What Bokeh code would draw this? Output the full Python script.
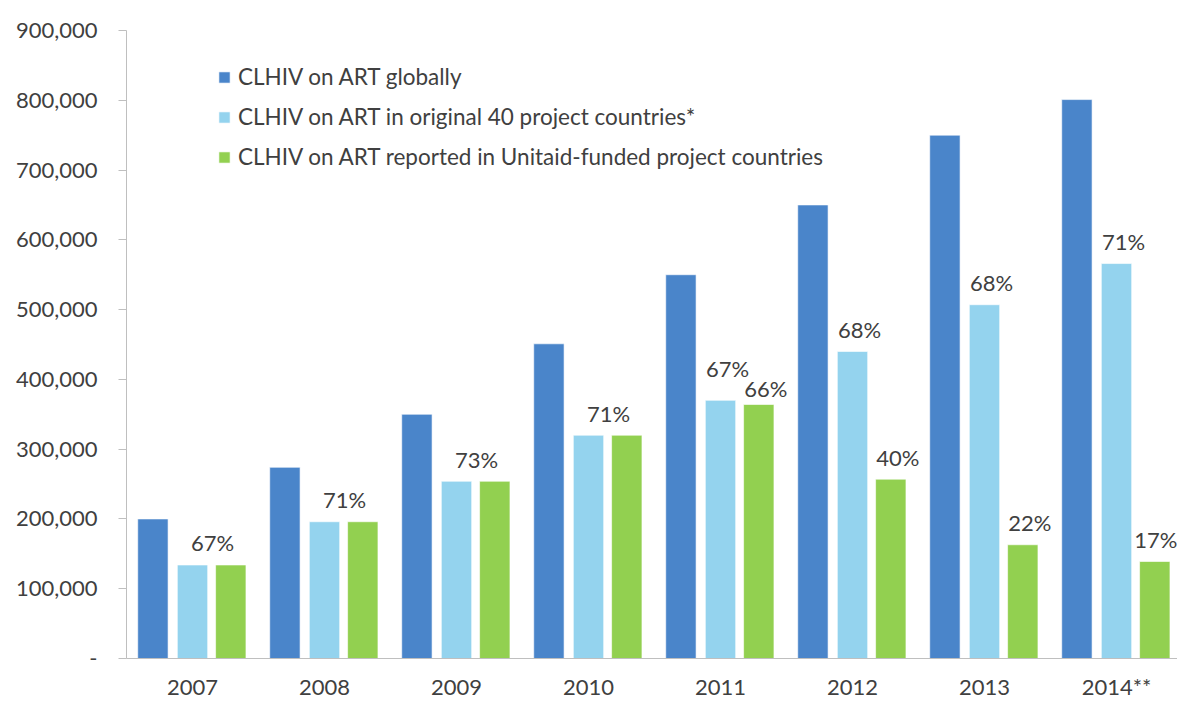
from bokeh.plotting import figure
from bokeh.models import (ColumnDataSource, Range1d, FixedTicker, NumeralTickFormatter,
                          Legend, LegendItem)
from bokeh.core.properties import value
from bokeh.embed import file_html
from bokeh.resources import INLINE

# ---------------- data ----------------
years = ["2007", "2008", "2009", "2010", "2011", "2012", "2013", "2014**"]
global_art = [200000, 274000, 350000, 451000, 550000, 650000, 750000, 801000]
orig40_art = [134000, 196000, 254000, 320000, 370000, 440000, 507000, 566000]
unitaid_art = [134000, 196000, 254000, 320000, 364000, 257000, 163000, 139000]
orig40_pct = ["67%", "71%", "73%", "71%", "67%", "68%", "68%", "71%"]
unitaid_pct = ["", "", "", "", "66%", "40%", "22%", "17%"]
series_names = ["CLHIV on ART globally",
                "CLHIV on ART in original 40 project countries*",
                "CLHIV on ART reported in Unitaid-funded project countries"]
y_ticks = [0, 100000, 200000, 300000, 400000, 500000, 600000, 700000, 800000, 900000]

# ---------------- style ----------------
FONT = "Lato"
TXT = "#404040"
AXC = "#BFBFBF"
FS = "22px"
colors = ["#4A85CA", "#94D3EE", "#92D050"]
offsets = [-0.30, 0.0, 0.29]
bar_w = 0.23

n = len(years)
centers = [i + 0.5 for i in range(n)]

p = figure(width=1177, height=702, output_backend="svg", toolbar_location=None,
           x_range=Range1d(0, 1051 / 132), y_range=Range1d(0, 900000),
           min_border_left=126, min_border_right=0, min_border_top=30, min_border_bottom=42)
p.outline_line_color = None
p.xgrid.visible = False
p.ygrid.visible = False
p.background_fill_color = "white"

renderers = []
for vals, col, off in zip([global_art, orig40_art, unitaid_art], colors, offsets):
    src = ColumnDataSource(dict(x=[c + off for c in centers], top=vals))
    r = p.vbar(x="x", top="top", width=bar_w, bottom=0, source=src,
               fill_color=col, line_color="white", line_width=1, line_alpha=0.6)
    renderers.append(r)

# percentage labels
lx, ly, lt, lxo, lyo = [], [], [], [], []
BASE = -22
nudge_y = {(4, 0): -10, (4, 1): 6}
nudge_x = {(7, 1): -6}
for i in range(n):
    if unitaid_pct[i] == "":
        lx.append(centers[i] + (offsets[1] + offsets[2]) / 2)
        ly.append(max(orig40_art[i], unitaid_art[i]))
        lt.append(orig40_pct[i])
        lxo.append(1)
        lyo.append(BASE)
    else:
        lx.append(centers[i] + offsets[1]); ly.append(orig40_art[i]); lt.append(orig40_pct[i])
        lxo.append(7 + nudge_x.get((i, 0), 0)); lyo.append(BASE + nudge_y.get((i, 0), 0))
        lx.append(centers[i] + offsets[2]); ly.append(unitaid_art[i]); lt.append(unitaid_pct[i])
        lxo.append(7 + nudge_x.get((i, 1), 0)); lyo.append(BASE + nudge_y.get((i, 1), 0))
lsrc = ColumnDataSource(dict(x=lx, y=ly, t=lt, xo=lxo, yo=lyo))
p.text(x="x", y="y", text="t", x_offset="xo", y_offset="yo", source=lsrc,
       text_font=value(FONT), text_font_size=FS, text_color=TXT,
       text_align="center", text_baseline="alphabetic")

# axes
p.xaxis.ticker = FixedTicker(ticks=centers)
p.xaxis.major_label_overrides = {c: y for c, y in zip(centers, years)}
p.xaxis.axis_line_color = AXC
p.xaxis.major_tick_line_color = None
p.xaxis.minor_tick_line_color = None
p.xaxis.major_tick_out = 0
p.xaxis.major_label_standoff = 14
p.xaxis.major_label_text_font = FONT
p.xaxis.major_label_text_font_size = FS
p.xaxis.major_label_text_color = TXT

p.yaxis.ticker = FixedTicker(ticks=y_ticks)
p.yaxis.formatter = NumeralTickFormatter(format="0,0")
p.yaxis.major_label_overrides = {0: "-"}
p.yaxis.axis_line_color = AXC
p.yaxis.major_tick_line_color = AXC
p.yaxis.minor_tick_line_color = None
p.yaxis.major_tick_out = 8
p.yaxis.major_tick_in = 0
p.yaxis.major_label_standoff = 21
p.yaxis.major_label_text_font = FONT
p.yaxis.major_label_text_font_size = FS
p.yaxis.major_label_text_color = TXT

legend = Legend(items=[LegendItem(label=nm, renderers=[r]) for nm, r in zip(series_names, renderers)],
                location=(91, 488), border_line_alpha=0, background_fill_alpha=0,
                label_text_font=FONT, label_text_font_size="22.5px", label_text_color=TXT,
                glyph_width=14, glyph_height=14, label_height=24, spacing=13,
                padding=0, margin=0, label_standoff=7)
p.add_layout(legend)

open("out.html", "w").write(file_html(p, INLINE))
